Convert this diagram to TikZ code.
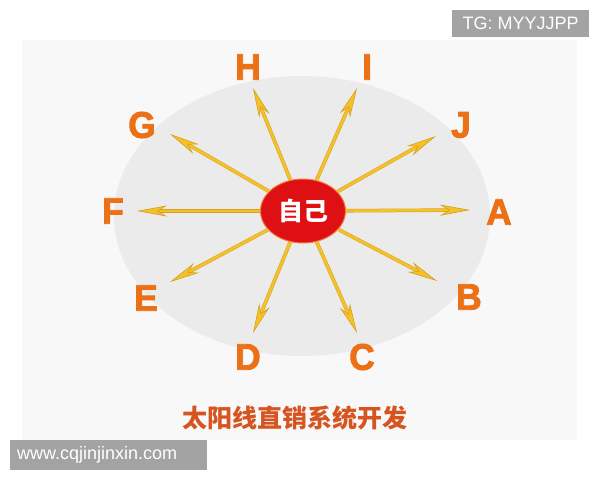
\documentclass[tikz,border=0pt]{standalone}
\usepackage{fontspec}
\setmainfont{Liberation Sans}
\newfontfamily\cjk{Noto Sans CJK SC}
\newfontfamily\letfont{Liberation Sans Bold}[FakeBold=2.5,FakeStretch=0.95]
\usetikzlibrary{arrows.meta,shapes.geometric}
\definecolor{panelbg}{RGB}{248,248,249}
\definecolor{ellbg}{RGB}{235,235,236}
\definecolor{sunred}{RGB}{222,16,20}
\definecolor{rayyel}{RGB}{244,194,40}
\definecolor{rayedge}{RGB}{214,160,30}
\definecolor{letorange}{RGB}{236,112,22}
\definecolor{titlecol}{RGB}{214,84,32}
\definecolor{wmgray}{RGB}{163,163,163}
\tikzset{
  letter/.style={text=letorange,font=\letfont\fontsize{37}{37}\selectfont,inner sep=0pt},
  ray/.style={draw=rayyel,line width=2.6pt,
    -{Stealth[length=30pt,width=11pt,inset=9pt,fill=rayyel,color=rayedge,line width=0.6pt]}},
  rayback/.style={draw=rayedge,line width=3.6pt,shorten >=20pt},
  wmbox/.style={fill=wmgray,text=white,inner sep=0pt,anchor=north west}
}
\begin{document}
\begin{tikzpicture}[x=1pt,y=-1pt]
\useasboundingbox (0,0) rectangle (600,480);
\fill[white] (0,0) rectangle (600,480);
\fill[panelbg] (22,40) rectangle (577,440);
\fill[ellbg] (302,216) ellipse [x radius=188, y radius=140];
% center
\node[ellipse,fill=sunred,draw={rgb,255:red,245;green,120;blue,60},line width=1pt,
      minimum width=85pt,minimum height=64pt,inner sep=0pt] (me) at (303,211) {};
% tips
\coordinate (tA) at (470,210);
\coordinate (tB) at (437,281);
\coordinate (tC) at (357,333);
\coordinate (tD) at (253,333);
\coordinate (tE) at (170,282);
\coordinate (tF) at (137,211);
\coordinate (tG) at (170,134);
\coordinate (tH) at (253,88);
\coordinate (tI) at (357,88);
\coordinate (tJ) at (436,136);
\foreach \t in {tA,tB,tC,tD,tE,tF,tG,tH,tI,tJ}{
  \draw[rayback] (me) -- (\t);
  \draw[ray] (me) -- (\t);
}
\node[font=\cjk\bfseries\fontsize{25}{25}\selectfont,text=white,inner sep=0pt] (metext) at (me) {自己};
% letters
\node[letter] (A) at (499,212) {A};
\node[letter] (B) at (469,297) {B};
\node[letter] (C) at (362,357) {C};
\node[letter] (D) at (248,357) {D};
\node[letter] (E) at (146,298) {E};
\node[letter] (F) at (113,211) {F};
\node[letter] (G) at (142,125) {G};
\node[letter] (H) at (248,67) {H};
\node[letter] (I) at (367,67) {I};
\node[letter] (J) at (461,125) {J};
% title
\node[font=\cjk\bfseries\fontsize{25}{25}\selectfont,text=titlecol,inner sep=0pt] (title) at (295,418) {太阳线直销系统开发};
% watermarks
\node[wmbox,minimum width=137pt,minimum height=27pt] (tgbox) at (452,10) {};
\node[text=white,font=\fontsize{18}{18}\selectfont,inner sep=0pt] (tg) at (tgbox.center) {TG: MYYJJPP};
\node[wmbox,minimum width=197pt,minimum height=30pt] (wwwbox) at (10,440) {};
\node[text=white,font=\fontsize{18}{18}\selectfont,inner sep=0pt,anchor=west] (www) at ([xshift=7pt]wwwbox.west) {www.cqjinjinxin.com};
\end{tikzpicture}
\end{document}
